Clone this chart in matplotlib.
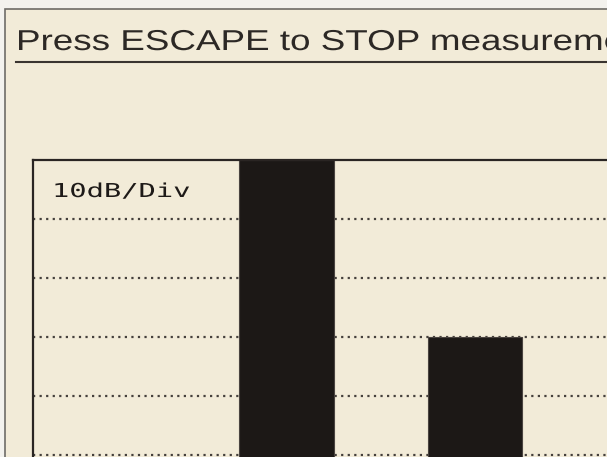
"""
Recreation of a spectrum-analyser style screen: two level bars on a dotted 10 dB grid.
"""

import matplotlib
matplotlib.use("Agg")
import matplotlib.pyplot as plt
from matplotlib.patches import Rectangle
from matplotlib.lines import Line2D
from matplotlib.transforms import Affine2D
from matplotlib.patheffects import AbstractPathEffect

#   Data (dB relative to the top of the graticule)
channels = [1, 2]
levels_db = [0, -30]
floor_db = -80
grid_db = [-10, -20, -30, -40, -50, -60, -70]
title_text = "Press ESCAPE to STOP measurement"
scale_text = "10dB/Div"

W, H = 607, 457
CREAM = "#f2ebd8"
INK = "#1c1816"


class Stretch(AbstractPathEffect):
    """Widen glyphs horizontally (the instrument font is wider than any installed one)."""

    def __init__(self, sx):
        super().__init__()
        self.sx = sx

    def draw_path(self, renderer, gc, tpath, affine, rgbFace=None):
        renderer.draw_path(gc, tpath, Affine2D().scale(self.sx, 1.0) + affine, rgbFace)


def px(x, y):
    #   pixel coords (origin top-left) -> figure fraction
    return x / W, 1 - y / H


fig = plt.figure(figsize=(W / 100, H / 100), dpi=100, facecolor="#f3f2ee")

#   screen panel with its grey border
fig.patches.append(Rectangle(px(5, 700), 800 / W, (700 - 9) / H, transform=fig.transFigure,
                             facecolor=CREAM, edgecolor="#6e6c68", lw=1.2, zorder=-5))

#   title + underline
x0, y0 = px(16, 50)
fig.text(x0, y0, title_text, family="Liberation Sans", fontsize=20.7, color="#2c2825",
         va="baseline", ha="left", path_effects=[Stretch(1.28)])
fig.lines.append(Line2D([16 / W, 1.02], [1 - 62.5 / H] * 2, transform=fig.transFigure,
                        color="#3a3430", lw=1.5))

#   graticule axes, extending past the right and bottom edge like the photo
unit = 188.5
xmin = channels[0] - (286.5 - 33) / unit
ax_w_px = 720 - 33
ax_h_px = 59.0 * 8
ax = fig.add_axes([33 / W, 1 - (160 + ax_h_px) / H, ax_w_px / W, ax_h_px / H])
ax.set_facecolor(CREAM)
ax.set_xlim(xmin, xmin + ax_w_px / unit)
ax.set_ylim(floor_db, 0)

ax.bar(channels, [v - floor_db for v in levels_db], bottom=floor_db, width=0.5,
       color=INK, edgecolor="#4a4440", lw=0.8, zorder=2)

ax.set_yticks(grid_db)
ax.yaxis.grid(True, linestyle=(0, (1, 1.95)), color="#45403c", lw=1.6)
ax.set_axisbelow(True)
ax.tick_params(left=False, bottom=False, labelleft=False, labelbottom=False)
for side in ("right", "bottom"):
    ax.spines[side].set_visible(False)
for side in ("left", "top"):
    ax.spines[side].set_color("#2a2523")
    ax.spines[side].set_linewidth(1.6)

tx, ty = px(52, 197)
fig.text(tx, ty, scale_text, family="DejaVu Sans Mono", fontsize=13.8, color="#1e1a18",
         va="baseline", ha="left", path_effects=[Stretch(1.5)])

fig.savefig("out.png", dpi=100, facecolor=fig.get_facecolor())
